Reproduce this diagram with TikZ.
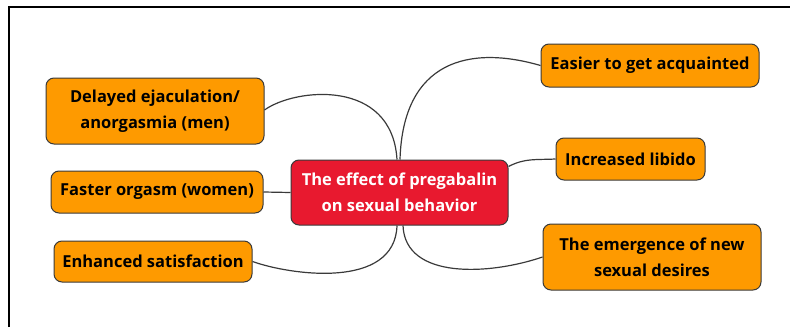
\documentclass[tikz,border=0pt]{standalone}
\usepackage{fontspec}
\setmainfont{Open Sans}
\usepackage{tikz}
\usetikzlibrary{positioning}

\definecolor{leafcol}{HTML}{FE9A00}
\definecolor{rootcol}{HTML}{E8192F}
\definecolor{edgecol}{HTML}{3A3A3A}

\begin{document}
\begin{tikzpicture}[x=1pt,y=-1pt]
            \tikzstyle{box}=[draw=edgecol, line width=1pt, rounded corners=8pt, align=center,
                inner sep=0pt, font=\fontsize{16.5}{26}\selectfont\bfseries]
            \tikzstyle{leaf}=[box, fill=leafcol, text=black]
            \tikzstyle{root}=[box, fill=rootcol, text=white]
            \tikzstyle{branch}=[draw=edgecol, line width=1.2pt]

            \useasboundingbox (0,0) rectangle (790,327);
            % frame
            \draw[line width=2pt] (9,327) -- (9,7) -- (790,7);

            \node[root, minimum width=217pt, minimum height=65pt] (eff) at (399.5,192.5)
                {The effect of pregabalin\\on sexual behavior};

            \node[leaf, minimum width=218pt, minimum height=66pt] (dly) at (155,111)
                {Delayed ejaculation/\\anorgasmia (men)};
            \node[leaf, minimum width=212pt, minimum height=42pt] (fst) at (157,192)
                {Faster orgasm (women)};
            \node[leaf, minimum width=198pt, minimum height=41pt] (enh) at (153,261.5)
                {Enhanced satisfaction};
            \node[leaf, minimum width=218pt, minimum height=43pt] (eas) at (650,65.5)
                {Easier to get acquainted};
            \node[leaf, minimum width=149pt, minimum height=42pt] (lib) at (630.5,159)
                {Increased libido};
            \node[leaf, minimum width=218pt, minimum height=66pt] (emg) at (652,257)
                {The emergence of new\\sexual desires};

            % branches
            \draw[branch] (dly.east |- 0,110) .. controls (295,88) and (392,78) .. (eff.north -| 397,0);
            \draw[branch] (eff.north -| 400,0) .. controls (403,60) and (470,45) .. (eas.west);
            \draw[branch] (eff.north east) ++(0,7) .. controls (525,158) and (535,160) .. (lib.west);
            \draw[branch] (fst.east) -- (eff.west);
            \draw[branch] (enh.east) .. controls (290,275) and (395,290) .. (eff.south -| 397,0);
            \draw[branch] (eff.south -| 403,0) .. controls (405,280) and (490,275) .. (emg.west);
        \end{tikzpicture}
\end{document}
